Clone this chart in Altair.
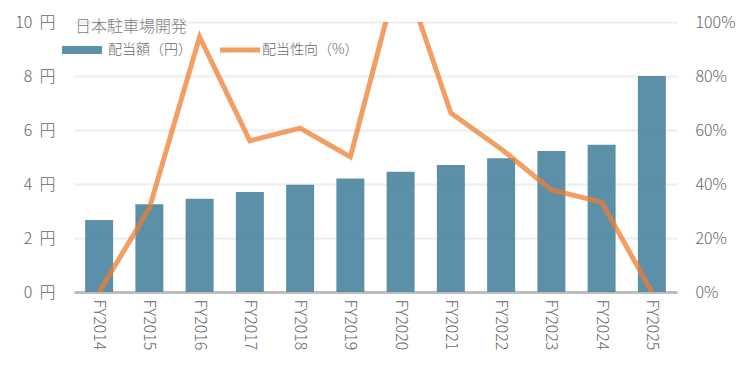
import altair as alt
import pandas as pd

years = ["FY2014", "FY2015", "FY2016", "FY2017", "FY2018", "FY2019",
         "FY2020", "FY2021", "FY2022", "FY2023", "FY2024", "FY2025"]
dividend = [2.67, 3.25, 3.45, 3.7, 3.97, 4.2, 4.45, 4.7, 4.95, 5.22, 5.45, 8.0]
payout = [0, 31, 94.5, 56, 60.7, 50, 121, 66.3, 53, 37.8, 33.3, 0]

bar_name = "配当額（円）"
line_name = "配当性向（%）"
company = "日本駐車場開発"

df = pd.DataFrame({
    "year": years,
    "dividend": dividend,
    "payout": payout,
    "s_bar": [bar_name] * len(years),
    "s_line": [line_name] * len(years),
})

FONT = "Noto Sans CJK JP"
LABEL = "#666666"
W = 300

x = alt.X("year:N", sort=years, title=None,
          scale=alt.Scale(paddingInner=0.443, paddingOuter=0.2215),
          axis=alt.Axis(labelAngle=90, labelAlign="left", labelBaseline="middle",
                        labelPadding=7, ticks=False, domainColor="#bdbdbd",
                        domainWidth=3, labelFontSize=16, labelColor=LABEL,
                        labelFont=FONT, labelFontWeight=W, grid=False))

bars = alt.Chart(df).mark_bar(color="#4a84a0", opacity=0.9).encode(
    x=x,
    y=alt.Y("dividend:Q", title=None,
            scale=alt.Scale(domain=[0, 10], nice=False),
            axis=alt.Axis(values=[0, 2, 4, 6, 8, 10],
                          labelExpr="datum.value + '\u00a0\u00a0円'",
                          ticks=False, domain=False, labelPadding=19,
                          labelFontSize=16, labelColor=LABEL, labelFont=FONT,
                          labelFontWeight=W, gridColor="#eeeeee", gridWidth=2)),
    fill=alt.Fill("s_bar:N", scale=alt.Scale(domain=[bar_name], range=["#4a84a0"]),
                  legend=alt.Legend(title=company, orient="none", legendX=1, legendY=-3,
                                    symbolType="M-5,-1H5V1H-5Z", symbolSize=64,
                                    symbolStrokeWidth=0, symbolOpacity=0.9,
                                    labelOffset=19, labelFontSize=14, labelColor=LABEL,
                                    labelFont=FONT, labelFontWeight=W,
                                    titleFontSize=16, titleFont=FONT,
                                    titleFontWeight=W, titleColor="#808080",
                                    titlePadding=8, padding=0)),
)

line = alt.Chart(df).mark_line(color="#ed7d31", opacity=0.75, strokeWidth=5, clip=True).encode(
    x=x,
    y=alt.Y("payout:Q", title=None,
            scale=alt.Scale(domain=[0, 100], nice=False),
            axis=alt.Axis(orient="right", values=[0, 20, 40, 60, 80, 100],
                          labelExpr="datum.value + '%'", ticks=False, domain=False,
                          grid=False, labelPadding=18, labelFontSize=16,
                          labelColor=LABEL, labelFont=FONT, labelFontWeight=W)),
    stroke=alt.Stroke("s_line:N", scale=alt.Scale(domain=[line_name], range=["#ed7d31"]),
                      legend=alt.Legend(title=None, orient="none", legendX=159, legendY=21,
                                        symbolType="M-5,0H5", symbolSize=64,
                                        symbolStrokeWidth=5, symbolOpacity=0.75,
                                        labelOffset=15, labelFontSize=14, labelColor=LABEL,
                                        labelFont=FONT, labelFontWeight=W, padding=0)),
)

chart = alt.layer(bars, line).resolve_scale(y="independent").properties(
    width=603, height=270,
    autosize=alt.AutoSizeParams(type="none"),
    padding={"left": 74, "top": 22, "right": 73, "bottom": 85},
).configure_view(stroke=None)

chart.save("out.html", embed_options={"renderer": "svg", "actions": False})
